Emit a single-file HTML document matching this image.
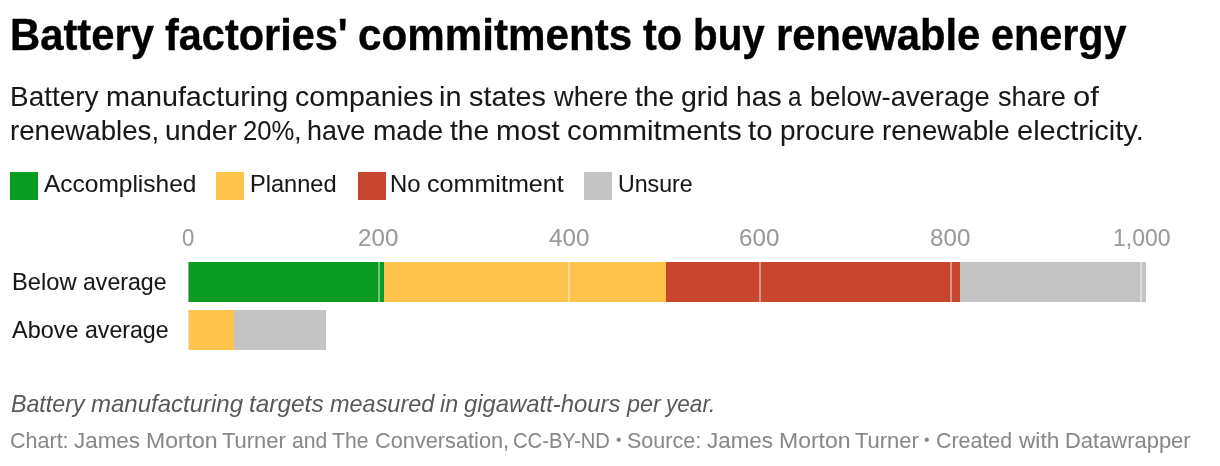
<!DOCTYPE html>
<html lang="en">
<head>
<meta charset="utf-8">
<title>Battery factories' commitments to buy renewable energy</title>
<style>
html,body{margin:0;padding:0;background:#fff;}
body{width:1220px;height:466px;position:relative;overflow:hidden;font-family:"Liberation Sans",sans-serif;color:#181818;}
.t{position:absolute;white-space:nowrap;line-height:1;margin:0;padding:0;font-weight:normal;}
.sw{position:absolute;top:172px;width:28px;height:28px;}
.bar{position:absolute;height:40px;}
.grid{position:absolute;top:262px;height:40px;width:2px;background:rgba(255,255,255,0.42);}
.t span{position:absolute;top:0;transform-origin:0 0;display:block;white-space:pre;}

#title{left:0;top:13px;font-size:44px;font-weight:bold;font-style:normal;color:#000;width:1220px;height:44px;-webkit-text-stroke:0.4px;}
#sub1{left:0;top:83px;font-size:28px;font-weight:normal;font-style:normal;color:#181818;width:1220px;height:28px;-webkit-text-stroke:0.06px;}
#sub2{left:0;top:117px;font-size:28px;font-weight:normal;font-style:normal;color:#181818;width:1220px;height:28px;-webkit-text-stroke:0.06px;}
#lg1{left:0;top:172px;font-size:24px;font-weight:normal;font-style:normal;color:#181818;width:1220px;height:24px;-webkit-text-stroke:0.08px;}
#lg2{left:0;top:172px;font-size:24px;font-weight:normal;font-style:normal;color:#181818;width:1220px;height:24px;-webkit-text-stroke:0.08px;}
#lg3{left:0;top:172px;font-size:24px;font-weight:normal;font-style:normal;color:#181818;width:1220px;height:24px;-webkit-text-stroke:0.08px;}
#lg4{left:0;top:172px;font-size:24px;font-weight:normal;font-style:normal;color:#181818;width:1220px;height:24px;-webkit-text-stroke:0.08px;}
#tk0{left:0;top:226px;font-size:24px;font-weight:normal;font-style:normal;color:#9a9a9a;width:1220px;height:24px;-webkit-text-stroke:0.08px;}
#tk1{left:0;top:226px;font-size:24px;font-weight:normal;font-style:normal;color:#9a9a9a;width:1220px;height:24px;-webkit-text-stroke:0.08px;}
#tk2{left:0;top:226px;font-size:24px;font-weight:normal;font-style:normal;color:#9a9a9a;width:1220px;height:24px;-webkit-text-stroke:0.08px;}
#tk3{left:0;top:226px;font-size:24px;font-weight:normal;font-style:normal;color:#9a9a9a;width:1220px;height:24px;-webkit-text-stroke:0.08px;}
#tk4{left:0;top:226px;font-size:24px;font-weight:normal;font-style:normal;color:#9a9a9a;width:1220px;height:24px;-webkit-text-stroke:0.08px;}
#tk5{left:0;top:226px;font-size:24px;font-weight:normal;font-style:normal;color:#9a9a9a;width:1220px;height:24px;-webkit-text-stroke:0.08px;}
#rl1{left:0;top:270px;font-size:24px;font-weight:normal;font-style:normal;color:#181818;width:1220px;height:24px;-webkit-text-stroke:0.08px;}
#rl2{left:0;top:318px;font-size:24px;font-weight:normal;font-style:normal;color:#181818;width:1220px;height:24px;-webkit-text-stroke:0.08px;}
#notes{left:0;top:392px;font-size:24px;font-weight:normal;font-style:italic;color:#595959;width:1220px;height:24px;}
#foot{left:0;top:430px;font-size:22px;font-weight:normal;font-style:normal;color:#888;width:1220px;height:22px;-webkit-text-stroke:0.06px;}
</style>
</head>
<body>
<h1 class="t" id="title"><span style="left:10.10px;transform:scaleX(0.9496)">Battery </span><span style="left:164.62px;transform:scaleX(0.9425)">factories' </span><span style="left:358.01px;transform:scaleX(0.9584)">commitments </span><span style="left:643.28px;transform:scaleX(0.9421)">to </span><span style="left:693.48px;transform:scaleX(0.9167)">buy </span><span style="left:775.84px;transform:scaleX(0.9494)">renewable </span><span style="left:990.50px;transform:scaleX(0.9384)">energy</span></h1>
<p class="t" id="sub1"><span style="left:10.00px;transform:scaleX(0.9975)">Battery </span><span style="left:105.61px;transform:scaleX(1.0264)">manufacturing </span><span style="left:294.75px;transform:scaleX(1.0204)">companies </span><span style="left:439.24px;transform:scaleX(1.0298)">in </span><span style="left:469.44px;transform:scaleX(1.0281)">states </span><span style="left:553.55px;transform:scaleX(0.9712)">where </span><span style="left:634.81px;transform:scaleX(1.0052)">the </span><span style="left:681.11px;transform:scaleX(1.0194)">grid </span><span style="left:735.80px;transform:scaleX(1.0111)">has </span><span style="left:787.93px;transform:scaleX(0.8667)">a </span><span style="left:809.98px;transform:scaleX(0.9781)">below-average </span><span style="left:997.81px;transform:scaleX(0.9684)">share </span><span style="left:1072.74px;transform:scaleX(1.1055)">of</span></p>
<p class="t" id="sub2"><span style="left:10.01px;transform:scaleX(0.9874)">renewables, </span><span style="left:164.75px;transform:scaleX(1.0027)">under </span><span style="left:242.72px;transform:scaleX(0.9164)">20%, </span><span style="left:307.04px;transform:scaleX(0.9601)">have </span><span style="left:372.55px;transform:scaleX(1.0009)">made </span><span style="left:449.84px;transform:scaleX(1.0052)">the </span><span style="left:496.11px;transform:scaleX(1.0506)">most </span><span style="left:567.11px;transform:scaleX(1.0493)">commitments </span><span style="left:748.11px;transform:scaleX(1.0480)">to </span><span style="left:779.86px;transform:scaleX(0.9976)">procure </span><span style="left:881.78px;transform:scaleX(0.9878)">renewable </span><span style="left:1016.56px;transform:scaleX(1.0355)">electricity.</span></p>
<span class="t" id="lg1"><span style="left:44.19px;transform:scaleX(1.0199)">Accomplished</span></span>
<span class="t" id="lg2"><span style="left:250.20px;transform:scaleX(0.9829)">Planned</span></span>
<span class="t" id="lg3"><span style="left:390.19px;transform:scaleX(0.9928)">No </span><span style="left:426.89px;transform:scaleX(1.0464)">commitment</span></span>
<span class="t" id="lg4"><span style="left:618.22px;transform:scaleX(0.9648)">Unsure</span></span>
<span class="t" id="tk0"><span style="left:182.25px;transform:scaleX(0.9231)">0</span></span>
<span class="t" id="tk1"><span style="left:358.26px;transform:scaleX(1.0073)">200</span></span>
<span class="t" id="tk2"><span style="left:548.77px;transform:scaleX(1.0071)">400</span></span>
<span class="t" id="tk3"><span style="left:739.26px;transform:scaleX(1.0073)">600</span></span>
<span class="t" id="tk4"><span style="left:929.76px;transform:scaleX(1.0073)">800</span></span>
<span class="t" id="tk5"><span style="left:1112.70px;transform:scaleX(0.9570)">1,000</span></span>
<span class="t" id="rl1"><span style="left:12.01px;transform:scaleX(0.9872)">Below </span><span style="left:83.22px;transform:scaleX(0.9636)">average</span></span>
<span class="t" id="rl2"><span style="left:12.00px;transform:scaleX(0.9766)">Above </span><span style="left:84.83px;transform:scaleX(0.9636)">average</span></span>
<p class="t" id="notes"><span style="left:10.59px;transform:scaleX(0.9665)">Battery </span><span style="left:91.11px;transform:scaleX(0.9998)">manufacturing </span><span style="left:248.97px;transform:scaleX(1.0164)">targets </span><span style="left:329.62px;transform:scaleX(0.9773)">measured </span><span style="left:439.78px;transform:scaleX(0.9685)">in </span><span style="left:464.47px;transform:scaleX(0.9933)">gigawatt-hours </span><span style="left:626.91px;transform:scaleX(0.9704)">per </span><span style="left:666.40px;transform:scaleX(0.9401)">year.</span></p>
<p class="t" id="foot"><span style="left:10.02px;transform:scaleX(0.9779)">Chart: </span><span style="left:74.27px;transform:scaleX(1.0186)">James </span><span style="left:146.00px;transform:scaleX(1.0448)">Morton </span><span style="left:222.39px;transform:scaleX(0.9965)">Turner </span><span style="left:291.70px;transform:scaleX(0.9610)">and </span><span style="left:332.20px;transform:scaleX(0.9613)">The </span><span style="left:374.53px;transform:scaleX(0.9881)">Conversation, </span><span style="left:513.38px;transform:scaleX(0.9181)">CC-BY-ND </span><span style="left:616.33px;transform:translateY(2.18px) scale(0.7143)">• </span><span style="left:627.19px;transform:scaleX(0.9779)">Source: </span><span style="left:707.02px;transform:scaleX(1.0186)">James </span><span style="left:778.75px;transform:scaleX(1.0448)">Morton </span><span style="left:855.14px;transform:scaleX(0.9965)">Turner </span><span style="left:924.45px;transform:translateY(2.18px) scale(0.7143)">• </span><span style="left:936.34px;transform:scaleX(0.9730)">Created </span><span style="left:1019.14px;transform:scaleX(1.0295)">with </span><span style="left:1064.69px;transform:scaleX(0.9975)">Datawrapper</span></p>
<div class="sw" style="left:10px;background:#099c23"></div>
<div class="sw" style="left:216px;background:#ffc44c"></div>
<div class="sw" style="left:358px;background:#c8452e"></div>
<div class="sw" style="left:584px;background:#c4c4c4"></div>
<div class="bar" style="left:188px;top:262px;width:196px;background:#099c23"></div>
<div class="bar" style="left:384px;top:262px;width:282px;background:#ffc44c"></div>
<div class="bar" style="left:666px;top:262px;width:294px;background:#c8452e"></div>
<div class="bar" style="left:960px;top:262px;width:186px;background:#c4c4c4"></div>
<div class="bar" style="left:188px;top:310px;width:46px;background:#ffc44c"></div>
<div class="bar" style="left:234px;top:310px;width:92px;background:#c4c4c4"></div>
<div class="grid" style="left:187px;height:88px"></div>
<div class="grid" style="left:378px"></div>
<div class="grid" style="left:568px"></div>
<div class="grid" style="left:759px"></div>
<div class="grid" style="left:950px"></div>
<div class="grid" style="left:1140px"></div>
</body>
</html>
